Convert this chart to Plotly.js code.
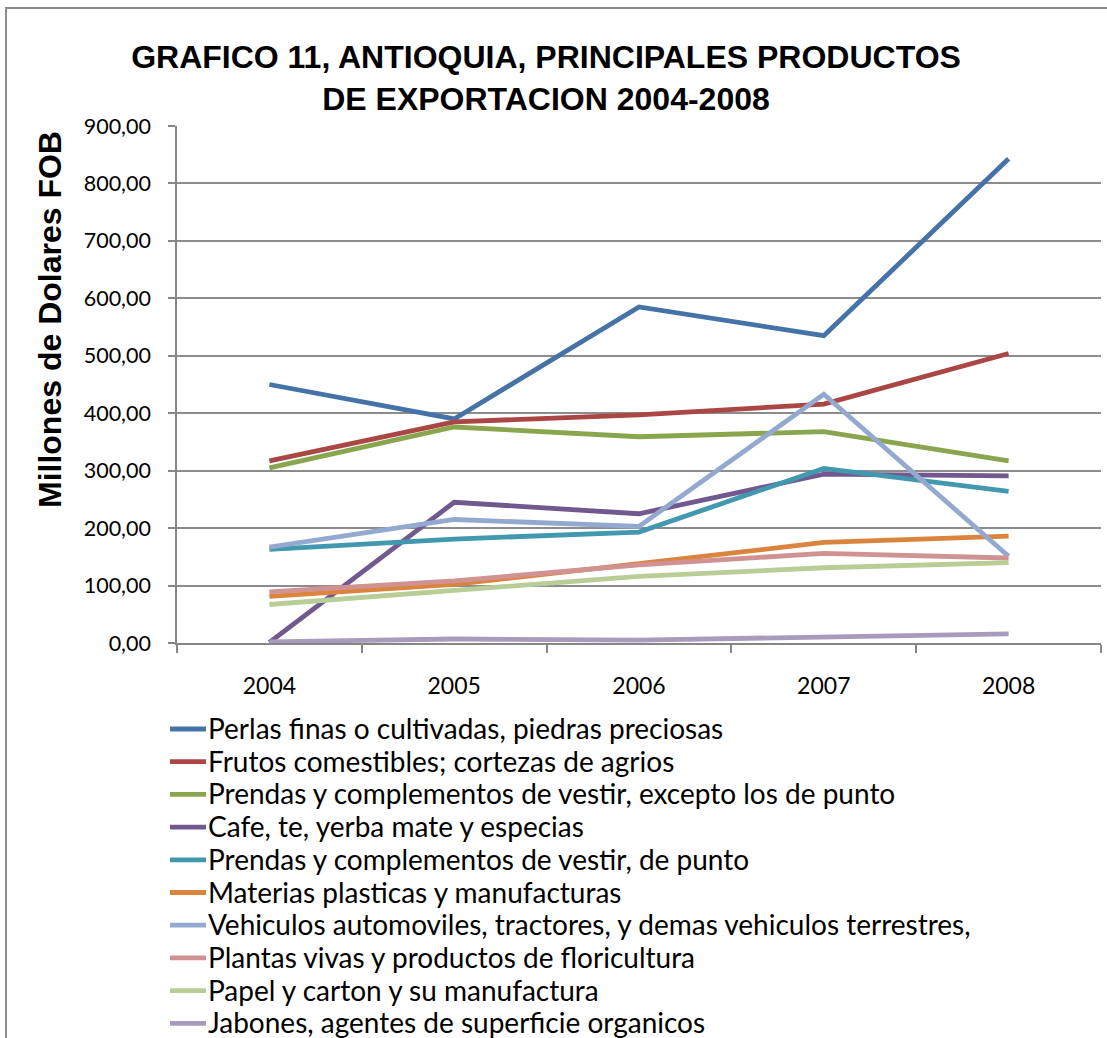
<!DOCTYPE html>
<html>
<head>
<meta charset="utf-8">
<script src="https://cdn.plot.ly/plotly-3.0.1.min.js"></script>
<style>html,body{margin:0;padding:0;background:#fff;}#chart{width:1107px;height:1038px;}</style>
</head>
<body>
<div id="chart"></div>
<script>
var years = ["2004", "2005", "2006", "2007", "2008"];
var seriesNames = [
  "Perlas finas o cultivadas, piedras preciosas",
  "Frutos comestibles; cortezas de agrios",
  "Prendas y complementos de vestir, excepto los de punto",
  "Cafe, te, yerba mate y especias",
  "Prendas y complementos de vestir, de punto",
  "Materias plasticas y manufacturas",
  "Vehiculos automoviles, tractores, y demas vehiculos terrestres,",
  "Plantas vivas y productos de floricultura",
  "Papel y carton y su manufactura",
  "Jabones, agentes de superficie organicos"
];
var perlas    = [450, 390, 585, 535, 843];
var frutos    = [317, 385, 397, 416, 504];
var prendasEx = [305, 376, 359, 368, 317];
var cafe      = [1, 245, 225, 294, 291];
var prendasPu = [163, 181, 193, 304, 264];
var materias  = [81, 102, 138, 175, 186];
var vehiculos = [167, 215, 203, 433, 151];
var plantas   = [89, 108, 136, 156, 148];
var papel     = [67, 92, 116, 131, 140];
var jabones   = [2, 7, 5, 10, 16];
var seriesValues = [perlas, frutos, prendasEx, cafe, prendasPu, materias, vehiculos, plantas, papel, jabones];
var colors = ["#4572A7", "#AA4643", "#89A54E", "#71588F", "#4198AF", "#DB843D", "#93A9CF", "#D19392", "#B9CD96", "#A99BBD"];

var W = 1107, H = 1038;
var mL = 177, mR = 6, mT = 126, mB = 395;
var pw = W - mL - mR, ph = H - mT - mB;
function px2x(px) { return (px - mL) / pw; }
function py2y(py) { return (H - mB - py) / ph; }

var traces = seriesValues.map(function (vals, i) {
  return {
    type: "scatter", mode: "lines",
    x: years, y: vals, name: seriesNames[i],
    line: {color: colors[i], width: 4.8},
    showlegend: false,
    hovertemplate: "%{x}: %{y:.2f}<extra>" + seriesNames[i] + "</extra>"
  };
});

var shapes = [{
  type: "rect", xref: "paper", yref: "paper",
  x0: px2x(6), x1: px2x(1200), y0: py2y(1200), y1: py2y(8),
  line: {color: "#8c8c8c", width: 2}, fillcolor: "rgba(0,0,0,0)", layer: "below"
}];
var annotations = [{
  xref: "paper", yref: "paper", x: px2x(50), y: py2y(320),
  text: "Millones de Dolares FOB", textangle: -90, showarrow: false,
  xanchor: "center", yanchor: "middle",
  font: {family: "Liberation Sans, Arial, sans-serif", size: 32, color: "#000", weight: "bold"}
}];
var legTop = 728, legStep = 32.7;
seriesNames.forEach(function (nm, i) {
  var cy = legTop + i * legStep;
  shapes.push({
    type: "line", xref: "paper", yref: "paper",
    x0: px2x(170), x1: px2x(206), y0: py2y(cy + 1), y1: py2y(cy + 1),
    line: {color: colors[i], width: 4.8}
  });
  annotations.push({
    xref: "paper", yref: "paper", x: px2x(206), y: py2y(cy),
    text: nm, showarrow: false, xanchor: "left", yanchor: "middle",
    font: {family: "Lato, sans-serif", size: 28, color: "#000"}
  });
});

var layout = {
  width: W, height: H,
  margin: {l: mL, r: mR, t: mT, b: mB, pad: 0},
  paper_bgcolor: "#fff", plot_bgcolor: "#fff",
  separators: ",.",
  showlegend: false,
  title: {
    text: "GRAFICO 11, ANTIOQUIA, PRINCIPALES PRODUCTOS<br>DE EXPORTACION 2004-2008",
    font: {family: "Liberation Sans, Arial, sans-serif", size: 32, color: "#000", weight: "bold"},
    x: 546 / W, xanchor: "center", xref: "container",
    y: 1 - 68 / H, yanchor: "middle", yref: "container"
  },
  xaxis: {
    type: "category", range: [-0.5, 4.5], tickson: "boundaries",
    ticks: "outside", ticklen: 8, tickwidth: 1.5, tickcolor: "#868686",
    showline: true, linecolor: "#868686", linewidth: 1.5,
    showgrid: false, zeroline: false,
    tickfont: {family: "Lato, sans-serif", size: 23, color: "#000"},
    ticklabelstandoff: 22, fixedrange: true
  },
  yaxis: {
    range: [0, 900], dtick: 100, tick0: 0, tickformat: ".2f",
    ticks: "outside", ticklen: 7, tickwidth: 1.5, tickcolor: "#868686",
    showline: true, linecolor: "#868686", linewidth: 1.5,
    showgrid: true, gridcolor: "#8c8c8c", gridwidth: 1.5, zeroline: false,
    tickfont: {family: "Lato, sans-serif", size: 21.5, color: "#000"},
    ticklabelstandoff: 13, fixedrange: true
  },
  shapes: shapes,
  annotations: annotations
};

Plotly.newPlot("chart", traces, layout, {displayModeBar: false, responsive: false});
</script>
</body>
</html>
